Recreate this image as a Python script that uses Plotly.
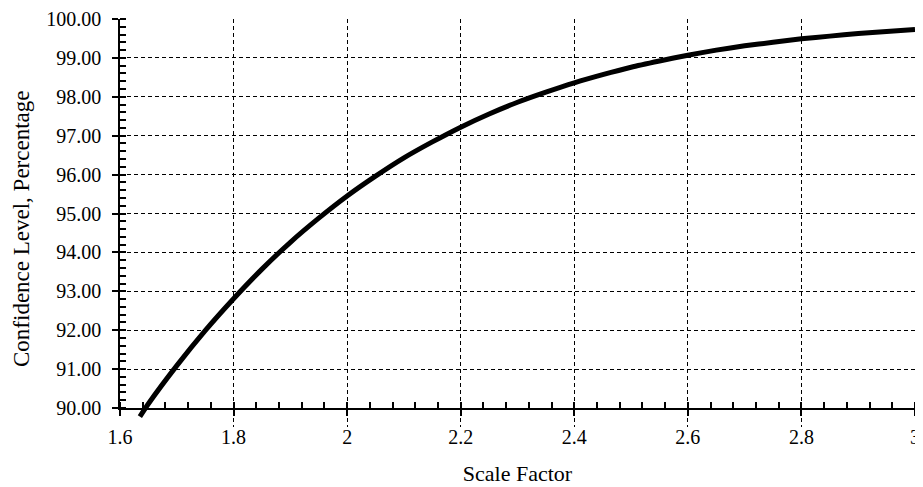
import plotly.graph_objects as go

# Data
scale_factor = [1.635, 1.65, 1.70, 1.75, 1.80, 1.85, 1.90, 1.95, 2.00, 2.05, 2.10,
                2.15, 2.20, 2.25, 2.30, 2.35, 2.40, 2.45, 2.50, 2.55, 2.60, 2.65,
                2.70, 2.75, 2.80, 2.85, 2.90, 2.95, 3.00]
confidence = [89.78, 90.11, 91.09, 91.99, 92.81, 93.57, 94.26, 94.88, 95.45, 95.96,
              96.43, 96.84, 97.22, 97.56, 97.86, 98.12, 98.36, 98.57, 98.76, 98.92,
              99.07, 99.20, 99.31, 99.40, 99.49, 99.56, 99.63, 99.68, 99.73]

x_ticks = [1.6, 1.8, 2.0, 2.2, 2.4, 2.6, 2.8, 3.0]
x_tick_labels = ["1.6", "1.8", "2", "2.2", "2.4", "2.6", "2.8", "3"]
y_ticks = [90, 91, 92, 93, 94, 95, 96, 97, 98, 99, 100]
y_tick_labels = ["%.2f" % v for v in y_ticks]

x_title = "Scale Factor"
y_title = "Confidence Level, Percentage"

FONT = "Liberation Serif, Times New Roman, serif"
# the page body has an 8px margin, so the figure is placed at (8, 8)
W, H = 915, 479
M_L, M_R, M_T, M_B = 112, 8, 11, 60
plot_w = W - M_L - M_R
plot_h = H - M_T - M_B
main_bottom_px = 19  # main axes bottom is 19 px above the extended data area
y_dom0 = main_bottom_px / plot_h
px_per_unit = plot_h * (1 - y_dom0) / (100 - 90)
y2_low = 90 - main_bottom_px / px_per_unit

fig = go.Figure()
fig.add_trace(go.Scatter(
    x=scale_factor, y=confidence, mode="lines",
    line=dict(color="black", width=5, shape="spline", smoothing=0.6),
    xaxis="x", yaxis="y2", showlegend=False, hoverinfo="skip",
))
fig.add_trace(go.Scatter(x=[1.6], y=[95], mode="markers", marker=dict(opacity=0),
                         xaxis="x", yaxis="y", showlegend=False, hoverinfo="skip"))

grid = dict(showgrid=True, gridcolor="black", gridwidth=1.4, griddash="4px,3px")

fig.update_layout(
    width=W, height=H,
    margin=dict(l=M_L, r=M_R, t=M_T, b=M_B, autoexpand=False),
    paper_bgcolor="white", plot_bgcolor="rgba(0,0,0,0)",
    font=dict(family=FONT, color="black"),
    xaxis=dict(
        range=[1.6, 3.0], tickvals=x_ticks, ticktext=x_tick_labels,
        anchor="y", showline=True, linecolor="black", linewidth=1.5,
        ticks="outside", ticklen=6, tickwidth=1.5, tickcolor="black",
        minor=dict(dtick=0.04, tick0=1.6, ticks="inside", ticklen=6, tickwidth=1.5,
                   tickcolor="black", showgrid=False),
        tickfont=dict(size=20, family=FONT), ticklabelstandoff=4,
        title=dict(text=x_title, font=dict(size=22, family=FONT), standoff=19),
        automargin=False,
        zeroline=False, layer="above traces", **grid,
    ),
    yaxis=dict(
        range=[90, 100], domain=[y_dom0, 1], tickvals=y_ticks, ticktext=y_tick_labels,
        anchor="x", showline=True, linecolor="black", linewidth=1.5,
        ticks="outside", ticklen=6, tickwidth=1.5, tickcolor="black",
        minor=dict(dtick=0.2, tick0=90, ticks="inside", ticklen=6, tickwidth=1.5,
                   tickcolor="black", showgrid=False),
        tickfont=dict(size=20, family=FONT), ticklabelstandoff=7,
        automargin=False,
        zeroline=False, layer="above traces", **grid,
    ),
    yaxis2=dict(range=[y2_low, 100], domain=[0, 1], anchor="x", visible=False,
                showgrid=False, zeroline=False, automargin=False),
    xaxis3=dict(range=[1.6, 3.0], tickvals=x_ticks, overlaying="x", anchor="y",
                side="bottom", ticks="inside", ticklen=6, tickwidth=1.5, tickcolor="black",
                showticklabels=False, showgrid=False, zeroline=False, showline=False,
                automargin=False),
    yaxis3=dict(range=[90, 100], tickvals=y_ticks, overlaying="y", anchor="x",
                side="left", ticks="inside", ticklen=6, tickwidth=1.5, tickcolor="black",
                showticklabels=False, showgrid=False, zeroline=False, showline=False,
                automargin=False),
    annotations=[dict(
        text=y_title, textangle=-90, showarrow=False,
        xref="paper", yref="paper",
        x=(22 - 8 - M_L) / plot_w, y=(H - M_B - (229 - 8)) / plot_h,
        xanchor="center", yanchor="middle",
        font=dict(size=23, family=FONT, color="black"),
    )],
)
fig.add_trace(go.Scatter(x=[1.6], y=[95], mode="markers", marker=dict(opacity=0),
                         xaxis="x3", yaxis="y3", showlegend=False, hoverinfo="skip"))

fig.write_html("out.html")
